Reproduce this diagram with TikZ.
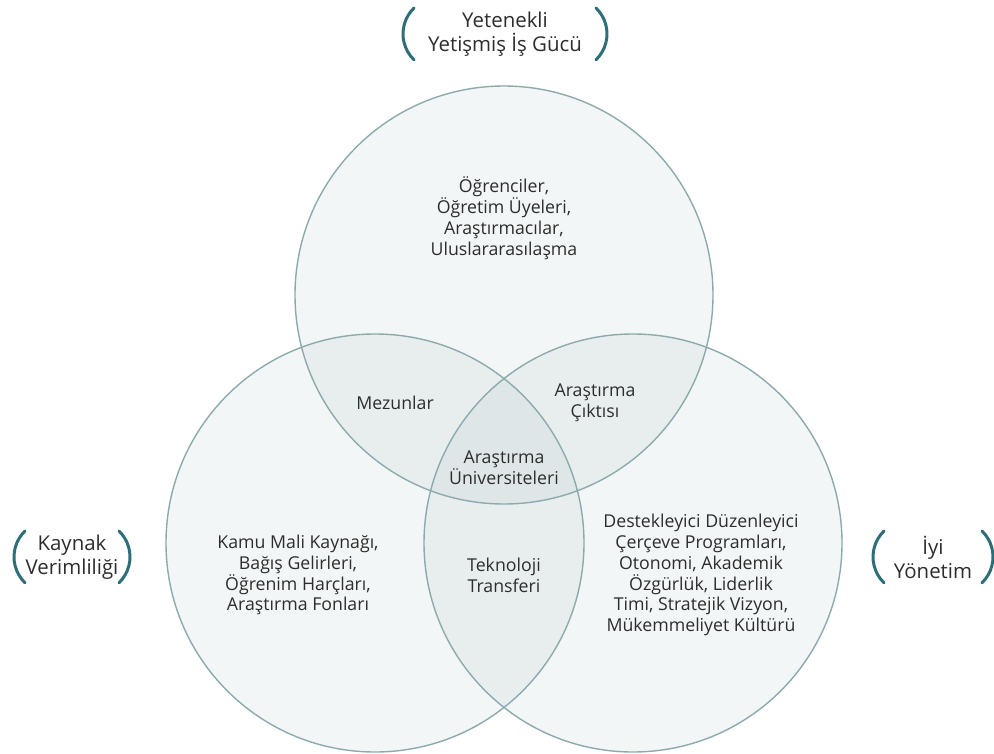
\documentclass[tikz,border=0pt]{standalone}
\usepackage{fontspec}
\setmainfont{Open Sans}
\definecolor{ringline}{RGB}{140,170,174}
\definecolor{ringfill}{RGB}{143,170,173}
\definecolor{bracketcol}{RGB}{46,110,120}
\definecolor{txt}{RGB}{45,45,45}

\begin{document}
\begin{tikzpicture}[x=1bp, y=-1bp,
    ring/.style={draw=ringline, line width=1.4bp, fill=ringfill, fill opacity=0.11},
    bracket/.style={draw=bracketcol, line width=3bp, line cap=round},
    lbl/.style={align=center, text=txt, font=\fontsize{17.8}{21}\selectfont, inner sep=0pt},
    biglbl/.style={lbl, font=\fontsize{20.5}{24}\selectfont}]
    \useasboundingbox (0,0) rectangle (994,754);

    % Draw circles
    \draw[ring] (504,295) circle[radius=209bp];
    \draw[ring] (375,543) circle[radius=209bp];
    \draw[ring] (633,543) circle[radius=209bp];

    % Outer labels
    \node[biglbl] (talent) at (505,34) {Yetenekli\\Yetişmiş İş Gücü};
    \node[biglbl] (resource) at (72,557) {Kaynak\\Verimliliği};
    \node[biglbl] (govern) at (933,557) {İyi\\Yönetim};

    % Brackets
    \draw[bracket] ([shift={(-91,-26)}]talent.center) arc[start angle=134, end angle=226, radius=36bp];
    \draw[bracket] ([shift={(91,-26)}]talent.center) arc[start angle=46, end angle=-46, radius=36bp];
    \draw[bracket] ([shift={(-47,-26)}]resource.center) arc[start angle=134, end angle=226, radius=36bp];
    \draw[bracket] ([shift={(47,-26)}]resource.center) arc[start angle=46, end angle=-46, radius=36bp];
    \draw[bracket] ([shift={(-49,-26)}]govern.center) arc[start angle=134, end angle=226, radius=36bp];
    \draw[bracket] ([shift={(49,-26)}]govern.center) arc[start angle=46, end angle=-46, radius=36bp];

    % Circle texts
    \node[lbl] (people) at (504,218) {Öğrenciler,\\Öğretim Üyeleri,\\Araştırmacılar,\\Uluslararasılaşma};
    \node[lbl] (funds) at (298,575) {Kamu Mali Kaynağı,\\Bağış Gelirleri,\\Öğrenim Harçları,\\Araştırma Fonları};
    \node[lbl] (rules) at (701,575) {Destekleyici Düzenleyici\\Çerçeve Programları,\\Otonomi, Akademik\\Özgürlük, Liderlik\\Timi, Stratejik Vizyon,\\Mükemmeliyet Kültürü};

    % Overlap texts
    \node[lbl] (grads) at (395,403) {Mezunlar};
    \node[lbl] (output) at (595,403) {Araştırma\\Çıktısı};
    \node[lbl] (unis) at (504,468) {Araştırma\\Üniversiteleri};
    \node[lbl] (transfer) at (504,575) {Teknoloji\\Transferi};
\end{tikzpicture}
\end{document}
